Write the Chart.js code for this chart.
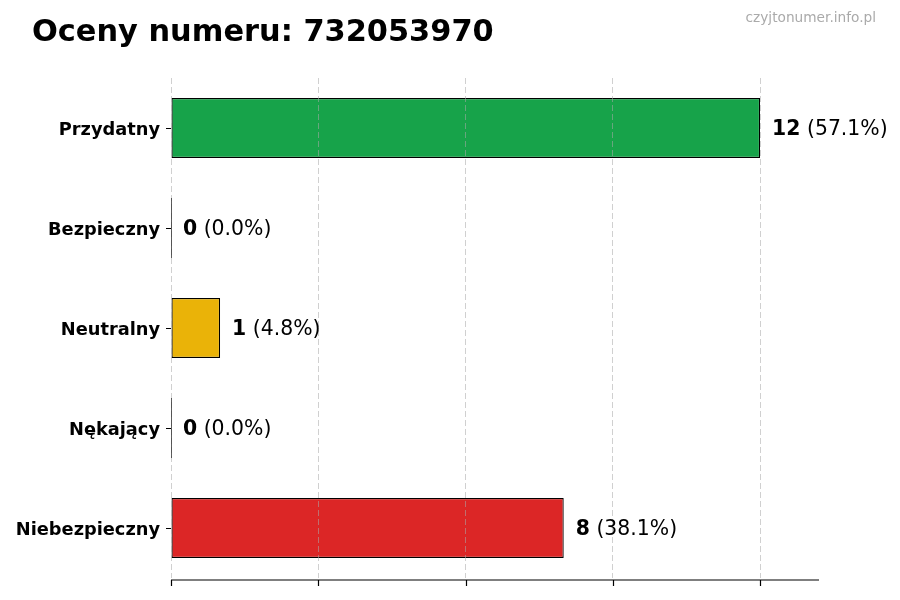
<!DOCTYPE html>
<html>
<head>
<meta charset="utf-8">
<script src="https://cdn.jsdelivr.net/npm/chart.js@4/dist/chart.umd.min.js"></script>
<style>
  html, body { margin: 0; padding: 0; background: #fff; }
  #wrap { width: 900px; height: 600px; position: relative; }
</style>
</head>
<body>
<div id="wrap"><canvas id="chart"></canvas></div>
<script>
// --- Data ---
const categories = ['Przydatny', 'Bezpieczny', 'Neutralny', 'Nękający', 'Niebezpieczny'];
const counts = [12, 0, 1, 0, 8];
const barColors = ['#17a34a', '#9ca3af', '#eab308', '#f97316', '#dc2626'];
const xTicks = [0, 3, 6, 9, 12];
const chartTitle = 'Oceny numeru: 732053970';
const watermark = 'czyjtonumer.info.pl';

const FONT = '"DejaVu Sans", sans-serif';
const total = counts.reduce((a, b) => a + b, 0);

// title, watermark, axis line, tick marks and value labels
const decorPlugin = {
    id: 'decor',
    afterDraw(chart) {
        const ctx = chart.ctx;
        const area = chart.chartArea;
        const xs = chart.scales.x;
        const ys = chart.scales.y;
        ctx.save();

        // title
        ctx.fillStyle = '#000';
        ctx.font = 'bold 30.4px ' + FONT;
        ctx.textAlign = 'left';
        ctx.textBaseline = 'alphabetic';
        ctx.fillText(chartTitle, 32, 41);

        // watermark
        ctx.fillStyle = '#aaaaaa';
        ctx.font = '13.7px ' + FONT;
        ctx.textAlign = 'right';
        ctx.fillText(watermark, 876, 22);

        // bottom axis + ticks
        ctx.strokeStyle = '#000';
        ctx.lineWidth = 1.2;
        const yAxis = area.bottom + 2;
        ctx.beginPath();
        ctx.moveTo(area.left, yAxis);
        ctx.lineTo(area.right, yAxis);
        xTicks.forEach(v => {
            const px = Math.round(xs.getPixelForValue(v)) + 0.5;
            ctx.moveTo(px, yAxis);
            ctx.lineTo(px, yAxis + 6);
        });
        ctx.stroke();

        // y tick marks
        ctx.lineWidth = 1;
        ctx.beginPath();
        categories.forEach((c, i) => {
            const py = Math.round(ys.getPixelForValue(i)) + 0.5;
            ctx.moveTo(area.left - 5, py);
            ctx.lineTo(area.left, py);
        });
        ctx.stroke();

        const meta = chart.getDatasetMeta(0);

        // zero-length bars still show their edge
        ctx.strokeStyle = '#333';
        ctx.lineWidth = 0.8;
        ctx.beginPath();
        meta.data.forEach((bar, i) => {
            if (counts[i] !== 0) return;
            ctx.moveTo(bar.x + 0.5, bar.y - bar.height / 2);
            ctx.lineTo(bar.x + 0.5, bar.y + bar.height / 2);
        });
        ctx.stroke();

        // value labels
        ctx.textAlign = 'left';
        ctx.textBaseline = 'middle';
        meta.data.forEach((bar, i) => {
            const val = counts[i];
            const pct = total ? (val / total * 100).toFixed(1) : '0.0';
            let x = bar.x + 12;
            const y = bar.y + 1.5;
            ctx.fillStyle = '#000';
            ctx.font = 'bold 20.4px ' + FONT;
            const num = String(val);
            ctx.fillText(num, x, y);
            x += ctx.measureText(num).width;
            ctx.font = '20.4px ' + FONT;
            ctx.fillText(' (' + pct + '%)', x, y);
        });

        ctx.restore();
    }
};

new Chart(document.getElementById('chart'), {
    type: 'bar',
    data: {
        labels: categories,
        datasets: [{
            data: counts,
            backgroundColor: barColors,
            borderColor: '#000',
            borderWidth: 1.2,
            borderSkipped: false,
            barPercentage: 0.6,
            categoryPercentage: 1.0
        }]
    },
    options: {
        indexAxis: 'y',
        responsive: true,
        maintainAspectRatio: false,
        animation: false,
        layout: { padding: { top: 78, right: 81, left: 0, bottom: 0 } },
        plugins: {
            legend: { display: false },
            title: { display: false },
            tooltip: { enabled: false }
        },
        scales: {
            x: {
                min: 0,
                max: 13.2,
                afterBuildTicks: s => { s.ticks = xTicks.map(v => ({ value: v })); },
                afterFit: s => { s.height = 22; },
                ticks: { display: false },
                grid: {
                    color: 'rgba(170,170,170,0.55)',
                    lineWidth: 1,
                    drawTicks: false,
                    z: 1
                },
                border: { display: false, dash: [6, 3] }
            },
            y: {
                afterFit: s => { s.width = 171; },
                border: { display: false },
                grid: { display: false, drawTicks: false },
                ticks: {
                    color: '#000',
                    padding: 11,
                    labelOffset: 2,
                    font: { family: FONT, size: 17.8, weight: 'bold' }
                }
            }
        }
    },
    plugins: [decorPlugin]
});
</script>
</body>
</html>
